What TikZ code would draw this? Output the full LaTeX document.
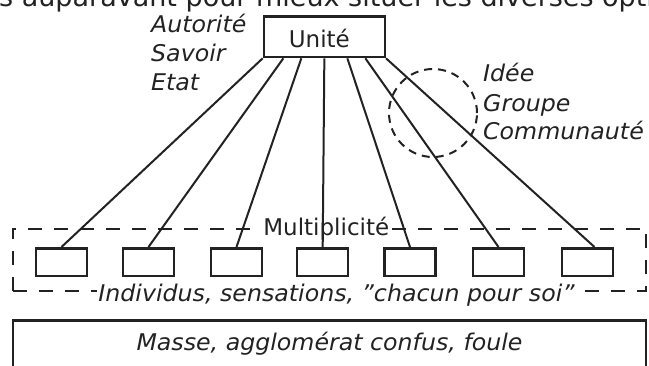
\documentclass[tikz,border=0pt]{standalone}
\usepackage{fontspec}
\setmainfont{DejaVu Sans}[ItalicFeatures={FakeStretch=1.03}]
\definecolor{ink}{HTML}{222222}
\begin{document}
\begin{tikzpicture}[x=1pt,y=-1pt,
  font=\fontsize{23}{28}\selectfont, text=ink,
  boxline/.style={draw=ink, line width=2.5pt},
  smallbox/.style={boxline, minimum width=51pt, minimum height=27.5pt, inner sep=0pt},
  conn/.style={draw=ink, line width=2pt},
  lbl/.style={inner sep=0pt, anchor=base west, font=\fontsize{23}{28}\selectfont\itshape},
  frame/.style={draw=ink, line width=2pt, dash pattern=on 14pt off 12pt},
  onframe/.style={fill=white, inner sep=1pt, anchor=base}]
\useasboundingbox (0,0) rectangle (649,365);
\clip (0,0) rectangle (649,365);

% cut-off line of text at the very top
\node[inner sep=0pt, anchor=base west, font=\fontsize{27}{32}\selectfont] (toptext) at (-1,6.7) {s auparavant pour mieux situer les diverses opti};

% Unite box
\node[boxline, minimum width=120.8pt, minimum height=40.8pt, inner sep=0pt,
      text height=22pt, text depth=0.7pt] (u) at (324.35,36.65) {\hspace*{-10pt}Unité};

% left labels
\node[lbl] (aut) at (151,32.7) {Autorité};
\node[lbl] (sav) at (151,61.5) {Savoir};
\node[lbl] (eta) at (151,90) {Etat};

% dashed circle and right labels
\node[draw=ink, line width=2pt, dash pattern=on 8pt off 6pt, circle,
      minimum size=88pt, inner sep=0pt] (circ) at (433,113) {};
\node[lbl] (ide) at (483,81.7) {Idée};
\node[lbl] (gro) at (483,111) {Groupe};
\node[lbl] (com) at (483,139.3) {Communauté};

% dashed frame with its labels
\node[frame, minimum width=633.3pt, minimum height=62.5pt, inner sep=0pt] (mult) at (329.15,259.75) {};
\node[onframe] (multl) at (326.3,235) {Multiplicité};
\node[onframe, font=\fontsize{23}{28}\selectfont\itshape\addfontfeature{FakeStretch=1.07}] (indl) at (336.5,301.5) {Individus, sensations, "chacun pour soi"};

% small boxes
\node[smallbox] (b1) at (61.5,262) {};
\node[smallbox] (b2) at (148.5,262) {};
\node[smallbox] (b3) at (236.5,262) {};
\node[smallbox] (b4) at (322.7,262) {};
\node[smallbox] (b5) at (410,262) {};
\node[smallbox] (b6) at (498.5,262) {};
\node[smallbox] (b7) at (587.5,262) {};

% connectors
\draw[conn] (u.south west) -- (b1.north);
\draw[conn] ([xshift=-41pt]u.south) -- (b2.north);
\draw[conn] ([xshift=-23pt]u.south) -- (b3.north);
\draw[conn] (u.south) -- (b4.north);
\draw[conn] ([xshift=23pt]u.south) -- (b5.north);
\draw[conn] ([xshift=41pt]u.south) -- (b6.north);
\draw[conn] (u.south east) -- ([xshift=7pt]b7.north);

% bottom box
\node[boxline, minimum width=633pt, minimum height=60pt, inner sep=0pt,
      text height=22pt, text depth=22.5pt] (masse) at (329.5,350.25)
      {\itshape Masse, agglomérat confus, foule};
\end{tikzpicture}
\end{document}
